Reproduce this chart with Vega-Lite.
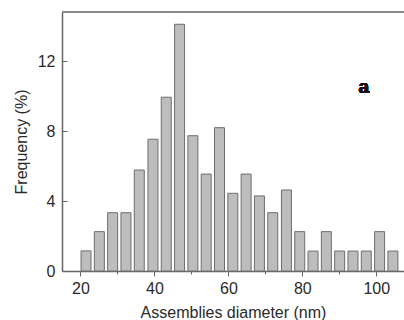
{
  "$schema": "https://vega.github.io/schema/vega-lite/v6.json",
  "autosize": "none",
  "padding": {"left": 62, "top": 12, "right": 0, "bottom": 49},
  "width": 342,
  "height": 259,
  "background": "white",
  "config": {
    "view": {"stroke": null},
    "font": "Liberation Sans",
    "axis": {
      "labelFont": "Liberation Sans",
      "titleFont": "Liberation Sans",
      "labelFontSize": 16,
      "titleFontSize": 16,
      "titleFontWeight": "normal",
      "labelColor": "#2a2a2a",
      "titleColor": "#2a2a2a",
      "domainColor": "#666666",
      "domainWidth": 1.5,
      "tickColor": "#666666",
      "grid": false
    },
    "axisRight": {"domain": false, "ticks": false, "labels": false, "title": null}
  },
  "data": {
    "values": [
      {"diameter": 21.5, "frequency": 1.15},
      {"diameter": 25.1, "frequency": 2.25},
      {"diameter": 28.7, "frequency": 3.33},
      {"diameter": 32.3, "frequency": 3.33},
      {"diameter": 35.9, "frequency": 5.77},
      {"diameter": 39.6, "frequency": 7.53},
      {"diameter": 43.2, "frequency": 9.93},
      {"diameter": 46.8, "frequency": 14.1},
      {"diameter": 50.4, "frequency": 7.73},
      {"diameter": 54.0, "frequency": 5.54},
      {"diameter": 57.6, "frequency": 8.19},
      {"diameter": 61.2, "frequency": 4.44},
      {"diameter": 64.8, "frequency": 5.54},
      {"diameter": 68.4, "frequency": 4.29},
      {"diameter": 72.0, "frequency": 3.33},
      {"diameter": 75.7, "frequency": 4.63},
      {"diameter": 79.3, "frequency": 2.25},
      {"diameter": 82.9, "frequency": 1.14},
      {"diameter": 86.5, "frequency": 2.25},
      {"diameter": 90.1, "frequency": 1.14},
      {"diameter": 93.7, "frequency": 1.14},
      {"diameter": 97.3, "frequency": 1.14},
      {"diameter": 100.9, "frequency": 2.25},
      {"diameter": 104.5, "frequency": 1.14}
    ]
  },
  "layer": [
    {
      "mark": {"type": "bar", "width": 10, "fill": "#bdbdbd", "stroke": "#6e6e6e", "strokeWidth": 1},
      "encoding": {
        "x": {
          "field": "diameter",
          "type": "quantitative",
          "scale": {"domain": [15, 107.5], "nice": false, "zero": false, "padding": 0},
          "axis": {
            "title": "Assemblies diameter (nm)",
            "values": [20, 30, 40, 50, 60, 70, 80, 90, 100],
            "labelExpr": "datum.value % 20 === 0 ? datum.label : ''",
            "tickSize": {"condition": {"test": "datum.value % 20 === 0", "value": 5}, "value": 3},
            "labelPadding": 4,
            "titlePadding": 8,
            "labelFlush": false
          }
        },
        "y": {
          "field": "frequency",
          "type": "quantitative",
          "scale": {"domain": [0, 14.8], "nice": false, "padding": 0},
          "axis": {
            "orient": "left",
            "title": "Frequency (%)",
            "values": [0, 2, 4, 6, 8, 10, 12, 14],
            "labelExpr": "datum.value % 4 === 0 ? datum.label : ''",
            "tickSize": {"condition": {"test": "datum.value % 4 === 0", "value": -5}, "value": -3},
            "labelPadding": 12,
            "titlePadding": 8,
            "labelFlush": false
          }
        }
      }
    },
    {
      "mark": {"type": "rule", "stroke": "#8a8a8a", "strokeWidth": 1.5},
      "encoding": {"y": {"datum": 14.8, "type": "quantitative"}}
    },
    {
      "mark": {"type": "text", "text": "a", "fontSize": 19, "fontWeight": "bold", "fill": "#111111", "align": "center", "baseline": "middle"},
      "encoding": {
        "x": {"datum": 96.6, "type": "quantitative"},
        "y": {"datum": 10.5, "type": "quantitative"}
      }
    }
  ]
}
